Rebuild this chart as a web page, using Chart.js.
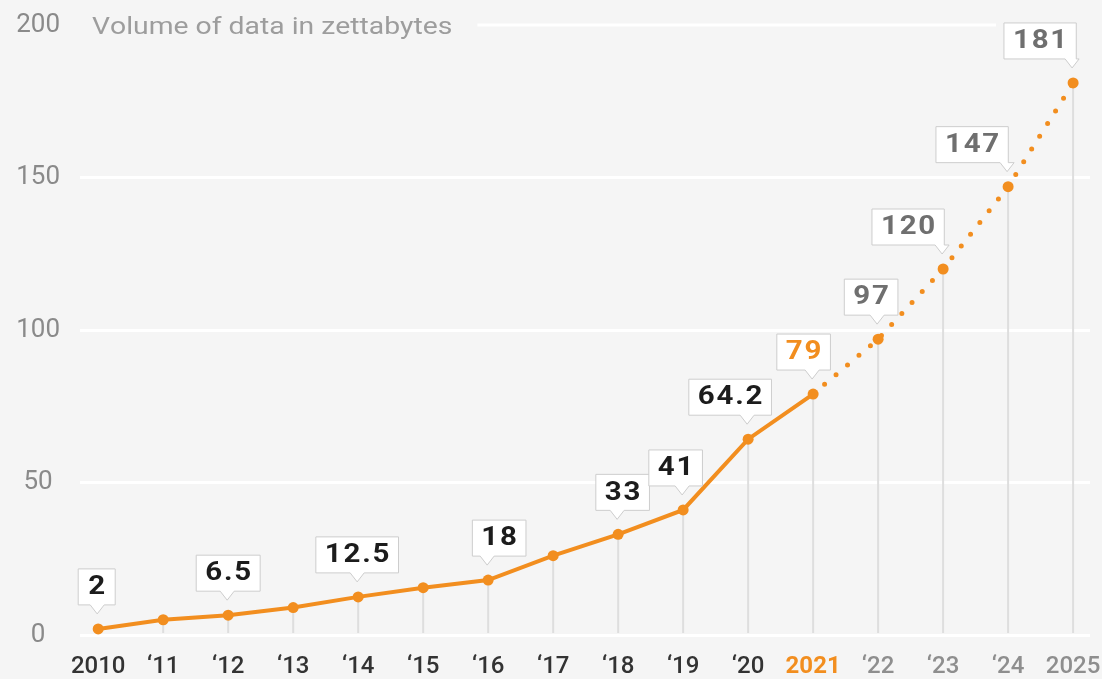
<!DOCTYPE html>
<html><head><meta charset="utf-8">
<script src="https://cdn.jsdelivr.net/npm/chart.js@4.4.1/dist/chart.umd.min.js"></script>
<style>html,body{margin:0;background:#f5f5f5}#wrap{width:1102px;height:679px;position:relative}</style>
</head><body><div id="wrap"><canvas id="c"></canvas></div>
<script>
/* data */
const years=[2010,2011,2012,2013,2014,2015,2016,2017,2018,2019,2020,2021,2022,2023,2024,2025];
const yearLabels=['2010','\u201811','\u201812','\u201813','\u201814','\u201815','\u201816','\u201817','\u201818','\u201819','\u201820','2021','\u201822','\u201823','\u201824','2025'];
const zettabytes=[2,5,6.5,9,12.5,15.5,18,26,33,41,64.2,79,97,120,147,181];
const calloutText=['2',null,'6.5',null,'12.5',null,'18',null,'33','41','64.2','79','97','120','147','181'];
const yTicks=[0,50,100,150,200];
const title='Volume of data in zettabytes';
const currentIdx=11; // 2021 = last actual, danach Prognose

/* look */
const ORANGE='#f28e1f',BG='#f5f5f5',FONT='Roboto, "DejaVu Sans", sans-serif';
const SX=1.18; // Text leicht in die Breite ziehen
const shiftX=[-1.5,0,0,0,-1,0,11,0,4.5,-7.5,-18,-9.5,-7,-35,-36,-33]; // box-Versatz ggü. Punkt

const bgPlug={id:'bg',beforeDraw(ch){const c=ch.ctx;c.save();c.fillStyle=BG;c.fillRect(0,0,ch.width,ch.height);c.restore();}};

function wideText(c,txt,x,y,sp){ // links ausgerichtet, x in Bildschirm-px
  c.save();c.translate(x,y);c.scale(SX,1);
  let cx=0;for(const ch of txt){c.fillText(ch,cx,0);cx+=c.measureText(ch).width+sp;}
  c.restore();
}
function wideWidth(c,txt,sp){let w=0;for(const ch of txt)w+=c.measureText(ch).width;return (w+sp*(txt.length-1))*SX;}

function calloutBox(ctx,px,py,i){
  ctx.font='bold 25px '+FONT;
  const t=calloutText[i],sp=1.5;
  const tw=wideWidth(ctx,t,sp);
  const w=Math.max(37,tw+18),h=36;
  const cx=px+shiftX[i],L=cx-w/2,R=cx+w/2,B=py-24,T=B-h;
  const tx=Math.min(px-1,R);
  return {t,tw,sp,L,R,B,T,tx};
}

const drops={id:'drops',beforeDatasetsDraw(ch){
  const c=ch.ctx,m=ch.getDatasetMeta(0),bot=ch.chartArea.bottom;
  c.save();c.strokeStyle='#dedede';c.lineWidth=2;
  m.data.forEach(p=>{c.beginPath();c.moveTo(p.x,p.y);c.lineTo(p.x,bot-2);c.stroke();});
  c.restore();
}};

const decor={id:'decor',afterDatasetsDraw(ch){
  const c=ch.ctx,m=ch.getDatasetMeta(0),ys=ch.scales.y;
  c.save();
  // titel + kurze 200er-Linie
  c.font='24px '+FONT;c.fillStyle='#9d9d9d';c.textBaseline='alphabetic';c.textAlign='left';
  wideText(c,title,92,34,0);
  const tEnd=92+wideWidth(c,title,0)+25;
  const top=calloutBox(c,m.data[15].x,m.data[15].y,15);
  c.strokeStyle='#ffffff';c.lineWidth=3;c.beginPath();
  const y200=ys.getPixelForValue(200);c.moveTo(tEnd,y200);c.lineTo(top.L-8,y200);c.stroke();
  // callouts
  m.data.forEach((p,i)=>{
    if(!calloutText[i])return;
    const b=calloutBox(c,p.x,p.y,i);
    c.beginPath();c.moveTo(b.L,b.T);c.lineTo(b.R,b.T);
    if(b.tx>=b.R-1){c.lineTo(b.R,b.B+9);c.lineTo(b.R-11,b.B);}
    else{c.lineTo(b.R,b.B);c.lineTo(b.tx+7,b.B);c.lineTo(b.tx,b.B+9);c.lineTo(b.tx-7,b.B);}
    c.lineTo(b.L,b.B);c.closePath();
    c.fillStyle='#ffffff';c.fill();c.strokeStyle='#cdcdcd';c.lineWidth=1;c.stroke();
    c.fillStyle=i<currentIdx?'#1c1c1c':(i===currentIdx?ORANGE:'#6f6f6f');
    c.font='bold 25px '+FONT;c.textAlign='left';c.textBaseline='middle';
    wideText(c,b.t,(b.L+b.R)/2-b.tw/2,(b.T+b.B)/2+1,b.sp);
  });
  c.restore();
}};

new Chart(document.getElementById('c'),{
  type:'line',
  data:{datasets:[{data:years.map((y,i)=>({x:y,y:zettabytes[i]})),
    borderColor:ORANGE,backgroundColor:ORANGE,borderWidth:4,borderCapStyle:'round',
    pointRadius:5.5,pointHoverRadius:5.5,pointBackgroundColor:ORANGE,pointBorderWidth:0,tension:0,
    segment:{borderDash:s=>s.p0DataIndex>=currentIdx?[0,15]:undefined,
             borderWidth:s=>s.p0DataIndex>=currentIdx?5:4}}]},
  options:{responsive:true,maintainAspectRatio:false,animation:false,
    layout:{padding:{top:25,right:12,left:0,bottom:0}},
    plugins:{legend:{display:false},tooltip:{enabled:false}},
    scales:{
      x:{type:'linear',min:2009.72,max:2025.26,
        afterBuildTicks:s=>{s.ticks=years.map(v=>({value:v}));},
        afterFit:s=>{s.height=44;s.paddingLeft=0;s.paddingRight=0;},
        grid:{display:false,drawTicks:false},border:{display:false},
        ticks:{autoSkip:false,maxRotation:0,padding:18,
          callback:v=>yearLabels[years.indexOf(v)],
          color:c=>c.index<currentIdx?'#333333':(c.index===currentIdx?ORANGE:'#8e8e8e'),
          font:c=>({family:FONT,size:24,weight:c.index===currentIdx?'bold':'500'})}},
      y:{min:0,max:200,
        afterBuildTicks:s=>{s.ticks=yTicks.map(v=>({value:v}));},
        afterFit:s=>{s.width=80;s.paddingTop=0;s.paddingBottom=0;},
        grid:{color:c=>c.tick&&c.tick.value===200?'rgba(0,0,0,0)':'#ffffff',lineWidth:3,drawTicks:false},
        border:{display:false},
        ticks:{color:'#8a8a8a',font:{family:FONT,size:26},padding:20,crossAlign:'center'}}}
  },
  plugins:[bgPlug,drops,decor]
});
</script></body></html>
